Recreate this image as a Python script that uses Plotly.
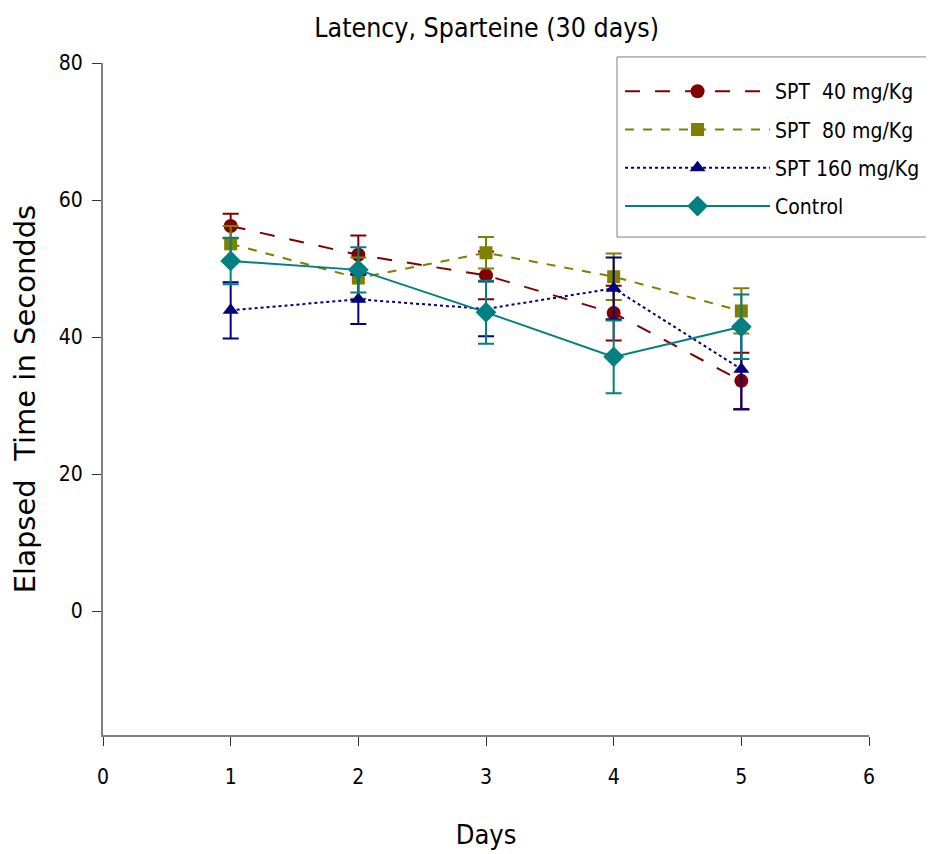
import plotly.graph_objects as go

days = [1, 2, 3, 4, 5]
spt40 = [56.2, 52.0, 49.0, 43.5, 33.6]
spt40_err = [1.8, 2.8, 3.5, 4.0, 4.1]
spt80 = [53.6, 48.6, 52.3, 48.8, 43.8]
spt80_err = [2.6, 3.0, 2.3, 3.4, 3.3]
spt160 = [43.9, 45.5, 44.1, 47.1, 35.3]
spt160_err = [4.1, 3.6, 4.0, 4.5, 5.9]
control = [51.1, 49.8, 43.6, 37.1, 41.5]
control_err = [3.4, 3.3, 4.6, 5.3, 4.7]

names = ["SPT  40 mg/Kg", "SPT  80 mg/Kg", "SPT 160 mg/Kg", "Control"]
x_ticks = [0, 1, 2, 3, 4, 5, 6]
y_ticks = [0, 20, 40, 60, 80]

FONT = "DejaVu Sans Condensed, sans-serif"

series = [
    (names[0], spt40, spt40_err, "#800000", "longdash", "circle", 14),
    (names[1], spt80, spt80_err, "#808000", "dash", "square", 13),
    (names[2], spt160, spt160_err, "#000080", "dot", "triangle-up", 14),
    (names[3], control, control_err, "#008080", "solid", "diamond", 16),
]

fig = go.Figure()
for i, (nm, vals, errs, col, dash, sym, sz) in enumerate(series):
    fig.add_trace(go.Scatter(
        x=days, y=vals, name=nm, mode="lines+markers",
        legendgroup=f"g{i}",
        line=dict(color=col, dash=dash, width=2),
        marker=dict(color=col, symbol=sym, size=sz),
        error_y=dict(type="data", array=errs, visible=True, color=col,
                     thickness=2, width=8),
    ))

# legend frame, open on the right (it runs off the edge in the original)
fx0, fx1, fy0, fy1 = 0.671, 1.2, 0.741, 1.009
fig.add_shape(type="path", xref="paper", yref="paper",
              path=f"M {fx1} {fy0} L {fx0} {fy0} L {fx0} {fy1} L {fx1} {fy1}",
              line=dict(color="#808080", width=1), layer="above")

fig.update_layout(
    width=934, height=854,
    paper_bgcolor="white", plot_bgcolor="white",
    margin=dict(l=92, r=73, t=55, b=127),
    font=dict(family=FONT, color="black", size=20),
    title=dict(text="Latency, Sparteine (30 days)", x=0.5125, xanchor="center",
               y=0.9766, yanchor="middle", font=dict(size=26.5, family=FONT)),
    xaxis=dict(range=[0, 6], tickvals=x_ticks, ticktext=[str(v) for v in x_ticks],
               showgrid=False, zeroline=False, showline=True, linecolor="#808080",
               linewidth=2, ticks="outside", ticklen=9, tickcolor="#333333",
               tickfont=dict(size=21), ticklabelstandoff=13,
               title=dict(text="Days", font=dict(size=27), standoff=37)),
    yaxis=dict(range=[-18.1, 80], tickvals=y_ticks, ticktext=[str(v) for v in y_ticks],
               showgrid=False, zeroline=False, showline=True, linecolor="#808080",
               linewidth=2, ticks="outside", ticklen=9, tickcolor="#333333",
               tickfont=dict(size=21), ticklabelstandoff=5,
               title=dict(text="Elapsed  Time in Secondds",
                          font=dict(size=29, family="DejaVu Sans"), standoff=18)),
    legend=dict(x=0.675, y=0.988, xanchor="left", yanchor="top",
                borderwidth=0, bgcolor="rgba(0,0,0,0)",
                font=dict(size=21, family=FONT), tracegroupgap=8,
                itemwidth=145),
)

fig.write_html("out.html")
